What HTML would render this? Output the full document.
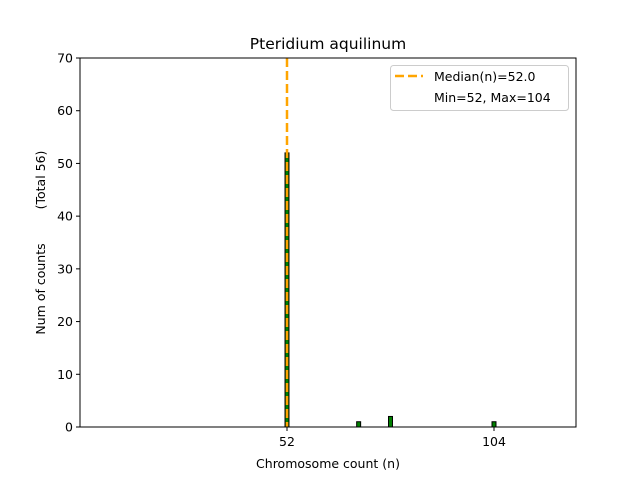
<!DOCTYPE html>
<html><head><meta charset="utf-8"><style>body{margin:0;background:#fff}svg{font-family:"DejaVu Sans","Liberation Sans",sans-serif}</style></head>
<body>
<svg id="c" width="640" height="480" xmlns="http://www.w3.org/2000/svg"></svg>
<script>
const categories = [52, 70, 78, 104];
const counts = [52, 1, 2, 1];
const yTicks = [0, 10, 20, 30, 40, 50, 60, 70];
const xTicks = [52, 104];
const medianValue = 52;
const NS = "http://www.w3.org/2000/svg";
const svg = document.getElementById('c');
const L = 80, R = 576, T = 58, B = 427;
const xMin = 0.0, xMax = 124.6, yMax = 70;
const xs = v => L + (v - xMin) / (xMax - xMin) * (R - L);
const ys = v => B - v / yMax * (B - T);
function mk(tag, attrs, parent) { const e = document.createElementNS(NS, tag); for (const k in attrs) e.setAttribute(k, attrs[k]); (parent || svg).appendChild(e); return e; }
function txt(s, attrs) { const e = mk('text', attrs); e.textContent = s; return e; }

let t = txt('Pteridium aquilinum', {x: 328, y: 49, 'text-anchor': 'middle', 'font-size': 15.5});



let bl = mk('line', {x1: xs(51.5), x2: xs(107.5), y1: B, y2: B, stroke: '#000', 'stroke-width': 1});



categories.forEach((c, i) => {
  const x0 = xs(c - 0.5), x1 = xs(c + 0.5);
  const r = mk('rect', {x: x0, y: ys(counts[i]), width: x1 - x0, height: B - ys(counts[i]), fill: 'green', stroke: '#000', 'stroke-width': 1});
  
  
});

let med = mk('line', {x1: xs(medianValue), x2: xs(medianValue), y1: T, y2: B, stroke: 'orange', 'stroke-width': 2.5, 'stroke-dasharray': '9,4'});



let fr = mk('rect', {x: L, y: T, width: R - L, height: B - T, fill: 'none', stroke: '#000', 'stroke-width': 1});



yTicks.forEach(v => {
  const y = ys(v);
  const tk = mk('line', {x1: L - 4, x2: L, y1: y, y2: y, stroke: '#000'});
  
  
  const lb = txt(String(v), {x: L - 7, y: y + 4.5, 'text-anchor': 'end', 'font-size': 12.5});
  
  
});
xTicks.forEach(v => {
  const x = xs(v);
  const tk = mk('line', {x1: x, x2: x, y1: B, y2: B + 4, stroke: '#000'});
  
  
  const lb = txt(String(v), {x: x, y: B + 19, 'text-anchor': 'middle', 'font-size': 12.5});
  
  
});

let xl = txt('Chromosome count (n)', {x: 328, y: 468, 'text-anchor': 'middle', 'font-size': 12.5});


let yl = txt('Num of counts', {x: 0, y: 0, 'text-anchor': 'middle', 'font-size': 12.5, transform: 'translate(45,289) rotate(-90)'});


let yl2 = txt('(Total 56)', {x: 0, y: 0, 'text-anchor': 'middle', 'font-size': 12.5, transform: 'translate(45,180) rotate(-90)'});



const lg = mk('g', {});


mk('rect', {x: 390.5, y: 65.5, width: 178, height: 45, rx: 3, fill: '#fff', stroke: '#ccc'}, lg);
const ll = mk('line', {x1: 395, x2: 423, y1: 76, y2: 76, stroke: 'orange', 'stroke-width': 2.5, 'stroke-dasharray': '9,4'}, lg);


let e1 = mk('text', {x: 434, y: 81, 'font-size': 12.5}, lg); e1.textContent = 'Median(n)=52.0';


let e2 = mk('text', {x: 434, y: 102, 'font-size': 12.5}, lg); e2.textContent = 'Min=52, Max=104';


</script>
</body></html>
